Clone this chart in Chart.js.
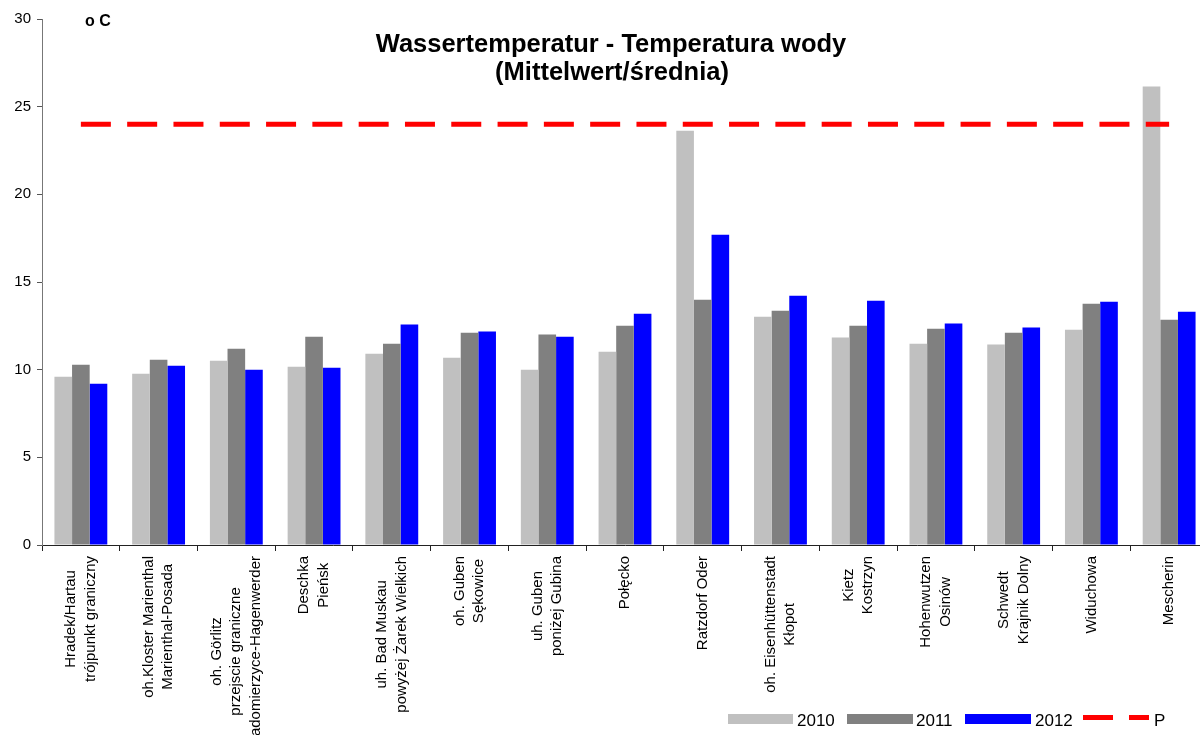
<!DOCTYPE html>
<html>
<head>
<meta charset="utf-8">
<script src="https://cdn.jsdelivr.net/npm/chart.js@4.4.1/dist/chart.umd.min.js"></script>
<style>
  html, body { margin: 0; padding: 0; background: #fff; overflow: hidden; width: 1200px; height: 735px; }
  #wrap { position: absolute; left: 0; top: 0; width: 1208px; height: 735px; }
  canvas { display: block; }
</style>
</head>
<body>
<div id="wrap"><canvas id="c" width="1208" height="735"></canvas></div>
<script>
// ---- data ----
const categories = [
  ["Hradek/Hartau", "trójpunkt graniczny"],
  ["oh.Kloster Marienthal", "Marienthal-Posada"],
  ["oh. Görlitz", "przejscie graniczne", "Radomierzyce-Hagenwerder"],
  ["Deschka", "Pieńsk"],
  ["uh. Bad Muskau", "powyżej Żarek Wielkich"],
  ["oh. Guben", "Sękowice"],
  ["uh. Guben", "poniżej Gubina"],
  ["Połęcko"],
  ["Ratzdorf Oder"],
  ["oh. Eisenhüttenstadt", "Kłopot"],
  ["Kietz", "Kostrzyn"],
  ["Hohenwutzen", "Osinów"],
  ["Schwedt", "Krajnik Dolny"],
  ["Widuchowa"],
  ["Mescherin"]
];
const values2010 = [9.6, 9.77, 10.51, 10.17, 10.91, 10.68, 10.0, 11.02, 23.63, 13.02, 11.83, 11.48, 11.43, 12.28, 26.15];
const values2011 = [10.28, 10.57, 11.2, 11.88, 11.48, 12.11, 12.0, 12.5, 13.99, 13.36, 12.5, 12.34, 12.11, 13.76, 12.85];
const values2012 = [9.2, 10.23, 10.0, 10.11, 12.57, 12.17, 11.88, 13.19, 17.7, 14.22, 13.93, 12.63, 12.4, 13.88, 13.31];
const valuesP = [24, 24, 24, 24, 24, 24, 24, 24, 24, 24, 24, 24, 24, 24, 24];
const seriesNames = ["2010", "2011", "2012", "P"];
const yTicks = [0, 5, 10, 15, 20, 25, 30];
const titleLines = ["Wassertemperatur - Temperatura wody", "(Mittelwert/średnia)"];
const unitLabel = "o C";

const FONT = "'Liberation Sans', Arial, sans-serif";
const colors = ["#C0C0C0", "#808080", "#0000FF", "#FF0000"];

const decor = {
  id: 'decor',
  afterDraw(chart) {
    const ctx = chart.ctx;
    const xs = chart.scales.x;
    const area = chart.chartArea;
    ctx.save();
    // title
    ctx.fillStyle = '#000';
    ctx.textAlign = 'center';
    ctx.textBaseline = 'alphabetic';
    ctx.font = "bold 25.5px " + FONT;
    ctx.fillText(titleLines[0], 611, 52);
    ctx.fillText(titleLines[1], 612, 80);
    // unit
    ctx.textAlign = 'left';
    ctx.font = "bold 16px " + FONT;
    ctx.fillText(unitLabel, 85, 26);
    // x labels (rotated, lines centered within block)
    ctx.font = "15px " + FONT;
    categories.forEach((lines, i) => {
      const cx = xs.getPixelForValue(i);
      let maxW = 0;
      lines.forEach(l => { maxW = Math.max(maxW, ctx.measureText(l).width); });
      const L = 19.5;
      ctx.save();
      ctx.translate(cx, area.bottom + 11);
      ctx.rotate(-Math.PI / 2);
      ctx.textAlign = 'center';
      ctx.textBaseline = 'middle';
      lines.forEach((l, j) => {
        ctx.fillText(l, -maxW / 2, (j - (lines.length - 1) / 2) * L);
      });
      ctx.restore();
    });
    // legend
    ctx.font = "17px " + FONT;
    ctx.textAlign = 'left';
    ctx.textBaseline = 'alphabetic';
    const legendItems = [
      { x: 728, w: 65, tx: 797 },
      { x: 847, w: 66, tx: 916 },
      { x: 965, w: 66, tx: 1035 }
    ];
    legendItems.forEach((it, k) => {
      ctx.fillStyle = colors[k];
      ctx.fillRect(it.x, 714, it.w, 10);
      ctx.fillStyle = '#000';
      ctx.fillText(seriesNames[k], it.tx, 726);
    });
    ctx.strokeStyle = colors[3];
    ctx.lineWidth = 5;
    ctx.setLineDash([30, 16]);
    ctx.beginPath();
    ctx.moveTo(1083, 717.5);
    ctx.lineTo(1149, 717.5);
    ctx.stroke();
    ctx.setLineDash([]);
    ctx.fillStyle = '#000';
    ctx.fillText(seriesNames[3], 1154, 726);
    ctx.restore();
  }
};

new Chart(document.getElementById('c'), {
  type: 'bar',
  data: {
    labels: categories,
    datasets: [
      { label: seriesNames[0], data: values2010, backgroundColor: colors[0], categoryPercentage: 0.68, barPercentage: 1.0, order: 1 },
      { label: seriesNames[1], data: values2011, backgroundColor: colors[1], categoryPercentage: 0.68, barPercentage: 1.0, order: 1 },
      { label: seriesNames[2], data: values2012, backgroundColor: colors[2], categoryPercentage: 0.68, barPercentage: 1.0, order: 1 },
      { label: seriesNames[3], data: valuesP, type: 'line', borderColor: colors[3], borderWidth: 5,
        borderDash: [30, 16.3], pointRadius: 0, fill: false, tension: 0, order: 0, borderCapStyle: 'butt' }
    ]
  },
  options: {
    responsive: false,
    animation: false,
    devicePixelRatio: 1,
    layout: { padding: { top: 19, right: 0, bottom: 0, left: 0 } },
    plugins: { legend: { display: false }, tooltip: { enabled: false }, title: { display: false } },
    scales: {
      x: {
        offset: true,
        grid: { display: true, drawOnChartArea: false, drawTicks: true, tickLength: 6, color: '#222', offset: true },
        border: { display: true, color: '#222', width: 1 },
        ticks: { display: false },
        afterFit(scale) { scale.height = 190; }
      },
      y: {
        min: 0, max: 30,
        afterBuildTicks(scale) { scale.ticks = yTicks.map(v => ({ value: v })); },
        ticks: { color: '#000', font: { family: FONT, size: 15 }, padding: 6 },
        grid: { display: true, drawOnChartArea: false, drawTicks: true, tickLength: 5, color: '#555' },
        border: { display: true, color: '#777', width: 1 },
        afterFit(scale) { scale.width = 42; }
      }
    }
  },
  plugins: [decor]
});
</script>
</body>
</html>
